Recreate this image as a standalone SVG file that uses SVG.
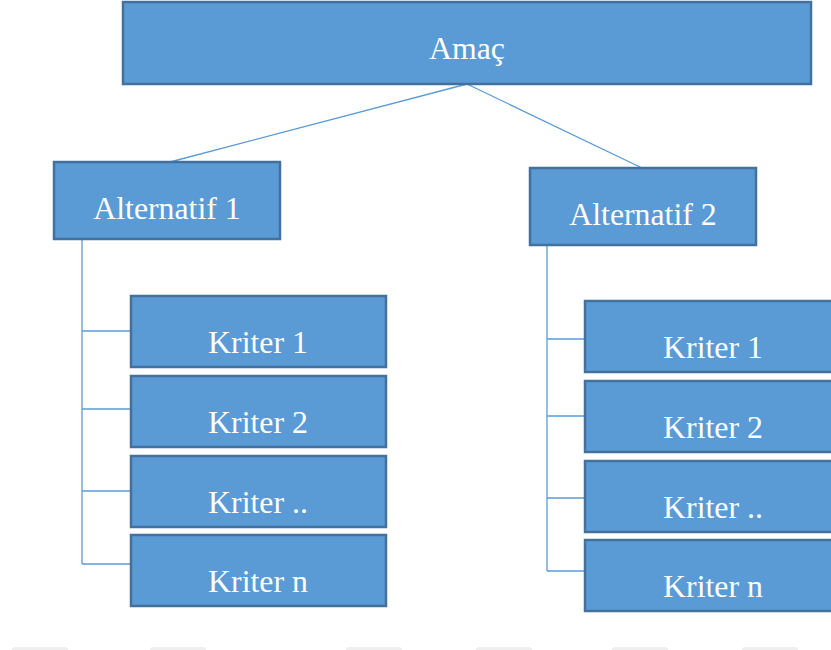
<svg xmlns="http://www.w3.org/2000/svg" width="831" height="650" viewBox="0 0 831 650">
  <style>
    .box { fill: #5B9BD5; stroke: #41719C; stroke-width: 2.5; }
    .lbl { fill: #ffffff; font-family: "Liberation Serif", "Times New Roman", serif; font-size: 31.8px; text-anchor: middle; }
    .link { fill: none; stroke: #5B9BD5; stroke-width: 1.3; }
    .band { fill: #efefef; }
  </style>
  <rect width="831" height="650" fill="#ffffff"/>

  <!-- connectors -->
  <g id="connectors">
    <path class="link" d="M467,84 L170,162 M467,84 L642,168"/>
    <path class="link" d="M82,239 V564 M82,331 H131 M82,409 H131 M82,491 H131 M82,564 H131"/>
    <path class="link" d="M547,245 V571 M547,339 H585 M547,416 H585 M547,498 H585 M547,571 H585"/>
  </g>

  <g id="goal">
    <rect class="box" x="123" y="2" width="688" height="82"/>
    <text class="lbl" x="467" y="59">Amaç</text>
  </g>

  <g id="alt1">
    <rect class="box" x="54" y="162" width="226" height="77"/>
    <text class="lbl" x="167" y="219">Alternatif 1</text>
  </g>
  <g id="alt2">
    <rect class="box" x="530" y="168" width="226" height="77"/>
    <text class="lbl" x="643" y="225">Alternatif 2</text>
  </g>

  <g id="alt1-k1">
    <rect class="box" x="131" y="296" width="255" height="71"/>
    <text class="lbl" x="258" y="353">Kriter 1</text>
  </g>
  <g id="alt1-k2">
    <rect class="box" x="131" y="376" width="255" height="71"/>
    <text class="lbl" x="258" y="433">Kriter 2</text>
  </g>
  <g id="alt1-k3">
    <rect class="box" x="131" y="456" width="255" height="71"/>
    <text class="lbl" x="258" y="513">Kriter ..</text>
  </g>
  <g id="alt1-kn">
    <rect class="box" x="131" y="535" width="255" height="71"/>
    <text class="lbl" x="258" y="592">Kriter n</text>
  </g>

  <g id="alt2-k1">
    <rect class="box" x="585" y="301" width="258" height="71"/>
    <text class="lbl" x="713" y="358">Kriter 1</text>
  </g>
  <g id="alt2-k2">
    <rect class="box" x="585" y="381" width="258" height="71"/>
    <text class="lbl" x="713" y="438">Kriter 2</text>
  </g>
  <g id="alt2-k3">
    <rect class="box" x="585" y="461" width="258" height="71"/>
    <text class="lbl" x="713" y="518">Kriter ..</text>
  </g>
  <g id="alt2-kn">
    <rect class="box" x="585" y="540" width="258" height="71"/>
    <text class="lbl" x="713" y="597">Kriter n</text>
  </g>

  <!-- faint bands along the lower edge -->
  <g id="bands">
    <rect class="band" x="12" y="647" width="56" height="6" rx="3"/>
    <rect class="band" x="150" y="647" width="56" height="6" rx="3"/>
    <rect class="band" x="346" y="647" width="56" height="6" rx="3"/>
    <rect class="band" x="476" y="647" width="56" height="6" rx="3"/>
    <rect class="band" x="612" y="647" width="56" height="6" rx="3"/>
    <rect class="band" x="742" y="647" width="56" height="6" rx="3"/>
  </g>
</svg>
